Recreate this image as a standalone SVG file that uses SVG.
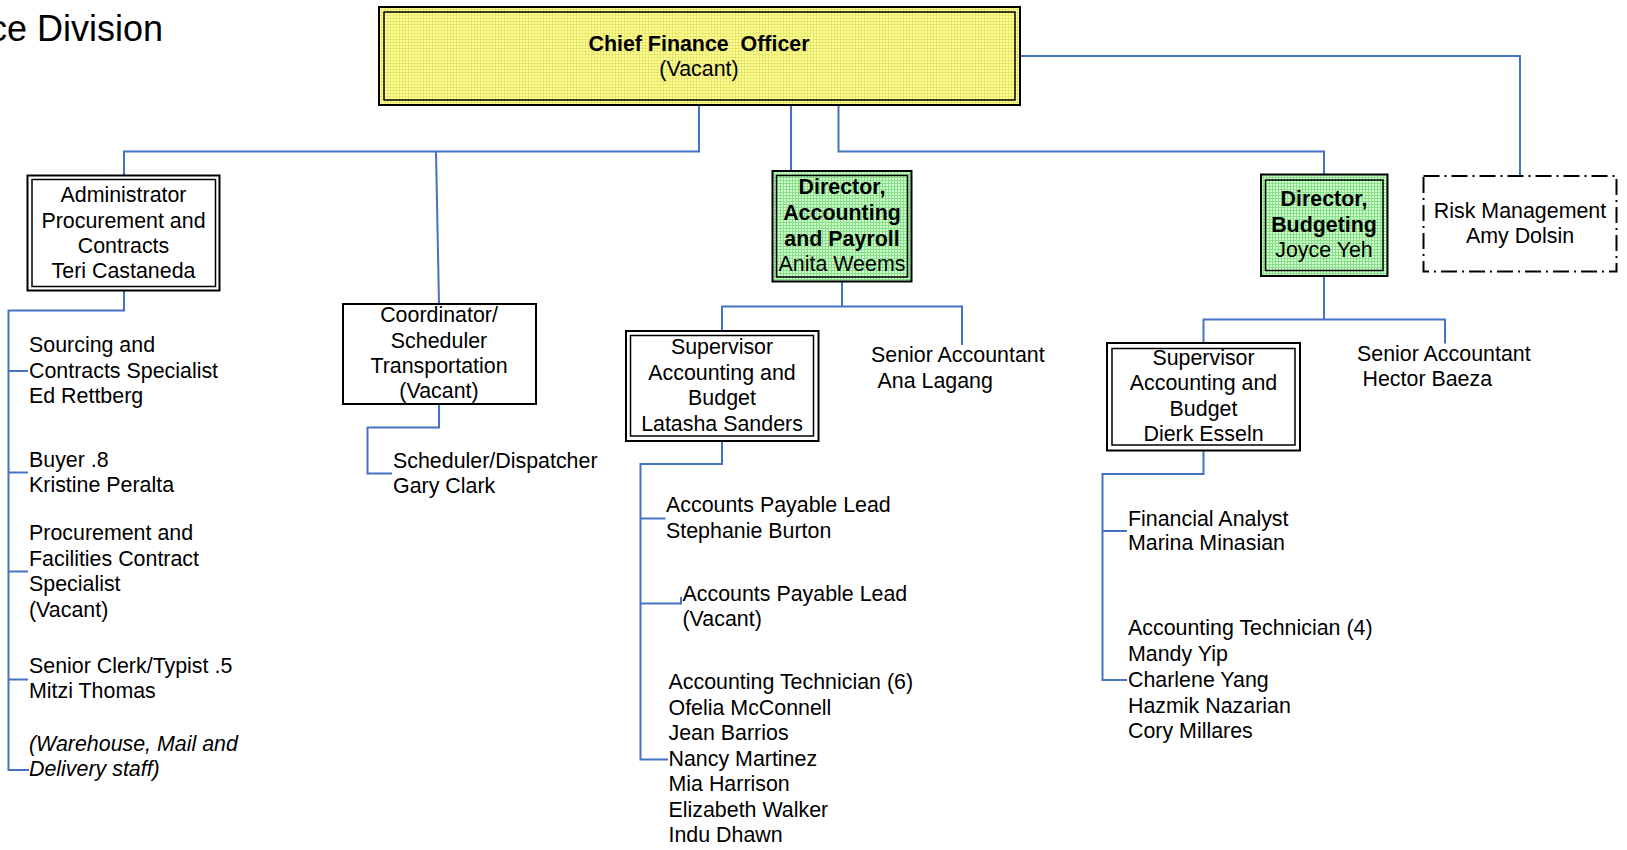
<svg xmlns="http://www.w3.org/2000/svg" width="1627" height="850" viewBox="0 0 1627 850">
<style>
text{font-family:"Liberation Sans",Arial,sans-serif;font-size:21.4px;fill:#000}
.c{text-anchor:middle}
.b{font-weight:bold}
.i{font-style:italic}
.ttl{font-size:36px}
.box{fill:none;stroke:#000;stroke-width:2}
.inn{fill:none;stroke:#000;stroke-width:1.5}
.wb{fill:#fff;stroke:#000;stroke-width:2}
.risk{fill:#fff;stroke:#000;stroke-width:2;stroke-dasharray:16 5 2 5}
.con path{fill:none;stroke:#4472C4;stroke-width:2}
</style>
<defs>
<pattern id="py" width="3" height="3" patternUnits="userSpaceOnUse">
<rect width="3" height="3" fill="#ffff9a"/>
<path d="M0 0.5H3M0.5 0V3" stroke="#e6e66a" stroke-width="1"/>
</pattern>
<pattern id="pg" width="3" height="3" patternUnits="userSpaceOnUse">
<rect width="3" height="3" fill="#d2fbd2"/>
<path d="M0 0.5H3M0.5 0V3" stroke="#86e086" stroke-width="1"/>
</pattern>
</defs>
<rect width="1627" height="850" fill="#fff"/>
<text class="ttl" x="163" y="41" text-anchor="end">ce Division</text>

<g class="con">
<path d="M699,105 V151.5 H124 V175"/>
<path d="M436,151.5 L439,304"/>
<path d="M791,100 V171"/>
<path d="M838.5,105 V151.5 H1324 V174.5"/>
<path d="M1020,56 H1520 V176"/>
<path d="M124,291 V310.5 H8.5 V770 H29"/>
<path d="M8.5,371 H28"/>
<path d="M8.5,472.5 H28"/>
<path d="M8.5,571.5 H28"/>
<path d="M8.5,679.5 H28"/>
<path d="M439,404 V427.5 H367.5 V473.5 H392"/>
<path d="M842,281.5 V306.5"/>
<path d="M722,330.5 V306.5 H962 V345"/>
<path d="M722,441 V464 H640.5 V759.5 H668"/>
<path d="M640.5,518.5 H665.5"/>
<path d="M640.5,603.5 H681 V597"/>
<path d="M1324,276 V319.5"/>
<path d="M1203.5,342.5 V319.5 H1445 V343.5"/>
<path d="M1203.5,450.5 V474 H1102.5 V680 H1127"/>
<path d="M1102.5,531 H1127"/>
</g>

<g id="cfo">
<rect x="379" y="7" width="641" height="98" fill="url(#py)" stroke="#000" stroke-width="2"/>
<rect x="384" y="12" width="631" height="88" class="inn"/>
<text class="c b" x="699" y="50.5" xml:space="preserve">Chief Finance  Officer</text>
<text class="c" x="699" y="76">(Vacant)</text>
</g>

<g id="admin">
<rect x="27.5" y="175.5" width="192" height="115" class="wb"/>
<rect x="32" y="179.5" width="183.5" height="107" class="inn"/>
<text class="c" x="123.5" y="202">Administrator</text>
<text class="c" x="123.5" y="227.5">Procurement and</text>
<text class="c" x="123.5" y="252.5">Contracts</text>
<text class="c" x="123.5" y="278">Teri Castaneda</text>
</g>

<g id="coord">
<rect x="343" y="304" width="193" height="100" class="wb"/>
<text class="c" x="439" y="322">Coordinator/</text>
<text class="c" x="439" y="347.5">Scheduler</text>
<text class="c" x="439" y="373">Transportation</text>
<text class="c" x="439" y="398">(Vacant)</text>
</g>

<g id="sched">
<text x="393" y="468">Scheduler/Dispatcher</text>
<text x="393" y="492.5">Gary Clark</text>
</g>

<g id="sourcing">
<text x="29" y="352">Sourcing and</text>
<text x="29" y="377.5">Contracts Specialist</text>
<text x="29" y="403">Ed Rettberg</text>
</g>
<g id="buyer">
<text x="29" y="466.5">Buyer .8</text>
<text x="29" y="492">Kristine Peralta</text>
</g>
<g id="procspec">
<text x="29" y="540">Procurement and</text>
<text x="29" y="565.5">Facilities Contract</text>
<text x="29" y="591">Specialist</text>
<text x="29" y="616.5">(Vacant)</text>
</g>
<g id="clerk">
<text x="29" y="672.5">Senior Clerk/Typist .5</text>
<text x="29" y="698">Mitzi Thomas</text>
</g>
<g id="warehouse">
<text class="i" x="29" y="750.5">(Warehouse, Mail and</text>
<text class="i" x="29" y="776">Delivery staff)</text>
</g>

<g id="diracct">
<rect x="772.5" y="171" width="139" height="110.5" fill="url(#pg)" stroke="#000" stroke-width="2"/>
<rect x="776.5" y="175.5" width="131" height="101.5" class="inn"/>
<text class="c b" x="842" y="193.5">Director,</text>
<text class="c b" x="842" y="220">Accounting</text>
<text class="c b" x="842" y="246">and Payroll</text>
<text class="c" x="842" y="270.5" font-size="22">Anita Weems</text>
</g>

<g id="dirbudget">
<rect x="1261" y="174.5" width="126.5" height="101.5" fill="url(#pg)" stroke="#000" stroke-width="2"/>
<rect x="1265.5" y="180" width="117.5" height="90.5" class="inn"/>
<text class="c b" x="1324" y="205.5">Director,</text>
<text class="c b" x="1324" y="231.5">Budgeting</text>
<text class="c" x="1324" y="256.5">Joyce Yeh</text>
</g>

<g id="risk">
<rect x="1423.5" y="176" width="193" height="95.5" class="risk"/>
<text class="c" x="1520" y="217.5">Risk Management</text>
<text class="c" x="1520" y="242.5">Amy Dolsin</text>
</g>

<g id="supacct">
<rect x="626" y="331" width="192.5" height="110" class="wb"/>
<rect x="630.5" y="335.5" width="183" height="100.5" class="inn"/>
<text class="c" x="722" y="354">Supervisor</text>
<text class="c" x="722" y="379.5">Accounting and</text>
<text class="c" x="722" y="405">Budget</text>
<text class="c" x="722" y="430.5">Latasha Sanders</text>
</g>

<g id="srana">
<text x="871" y="361.5">Senior Accountant</text>
<text x="877.5" y="387.5">Ana Lagang</text>
</g>

<g id="ap1">
<text x="666" y="511.5">Accounts Payable Lead</text>
<text x="666" y="537.5">Stephanie Burton</text>
</g>
<g id="ap2">
<text x="682.5" y="600.5">Accounts Payable Lead</text>
<text x="682.5" y="626">(Vacant)</text>
</g>
<g id="tech6">
<text x="668.5" y="689">Accounting Technician (6)</text>
<text x="668.5" y="714.5">Ofelia McConnell</text>
<text x="668.5" y="740">Jean Barrios</text>
<text x="668.5" y="765.5">Nancy Martinez</text>
<text x="668.5" y="791">Mia Harrison</text>
<text x="668.5" y="816.5">Elizabeth Walker</text>
<text x="668.5" y="841.5">Indu Dhawn</text>
</g>

<g id="supbudget">
<rect x="1107" y="343" width="193" height="107.5" class="wb"/>
<rect x="1112" y="348.5" width="183" height="96.5" class="inn"/>
<text class="c" x="1203.5" y="365">Supervisor</text>
<text class="c" x="1203.5" y="390">Accounting and</text>
<text class="c" x="1203.5" y="415.5">Budget</text>
<text class="c" x="1203.5" y="440.5">Dierk Esseln</text>
</g>

<g id="srhector">
<text x="1357" y="360.5">Senior Accountant</text>
<text x="1362.5" y="385.5">Hector Baeza</text>
</g>

<g id="finanalyst">
<text x="1128" y="526">Financial Analyst</text>
<text x="1128" y="550">Marina Minasian</text>
</g>
<g id="tech4">
<text x="1128" y="635">Accounting Technician (4)</text>
<text x="1128" y="660.5">Mandy Yip</text>
<text x="1128" y="686.5">Charlene Yang</text>
<text x="1128" y="712.5">Hazmik Nazarian</text>
<text x="1128" y="737.5">Cory Millares</text>
</g>
</svg>
